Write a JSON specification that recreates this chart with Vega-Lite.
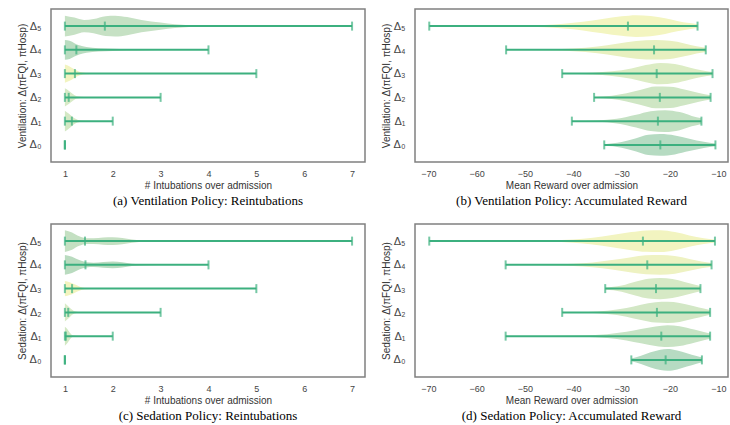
{
  "$schema": "https://vega.github.io/schema/vega-lite/v6.json",
  "background": "white",
  "padding": {"left": 16, "top": 8, "right": 0, "bottom": 0},
  "config": {
    "font": "Liberation Sans",
    "view": {"stroke": "#808080", "strokeWidth": 1.5},
    "area": {"opacity": 1},
    "axis": {"grid": false, "ticks": false, "domain": false, "labelColor": "#444444", "titleColor": "#333333", "titleFontWeight": "normal", "labelFont": "Liberation Sans", "titleFont": "Liberation Sans"},
    "axisX": {"labelFontSize": 9, "titleFontSize": 10, "labelPadding": 7, "titlePadding": 2},
    "axisY": {"labelFontSize": 11, "titleFontSize": 10, "labelPadding": 10, "titlePadding": 2, "labelOverlap": false},
    "title": {"font": "Liberation Serif", "fontSize": 13, "fontWeight": "normal", "color": "#000000", "offset": 5}
  },
  "datasets": {
    "s": [
      {"p": "a", "k": 0, "min": 1, "mean": 1, "max": 1},
      {"p": "a", "k": 1, "min": 1, "mean": 1.146, "max": 2},
      {"p": "a", "k": 2, "min": 1, "mean": 1.08, "max": 3},
      {"p": "a", "k": 3, "min": 1, "mean": 1.21, "max": 5},
      {"p": "a", "k": 4, "min": 1, "mean": 1.24, "max": 4},
      {"p": "a", "k": 5, "min": 1, "mean": 1.835, "max": 7},
      {"p": "b", "k": 0, "min": -33.6, "mean": -22.0, "max": -10.6},
      {"p": "b", "k": 1, "min": -40.3, "mean": -22.5, "max": -13.5},
      {"p": "b", "k": 2, "min": -35.7, "mean": -22.1, "max": -11.6},
      {"p": "b", "k": 3, "min": -42.3, "mean": -22.75, "max": -11.2},
      {"p": "b", "k": 4, "min": -53.9, "mean": -23.3, "max": -12.6},
      {"p": "b", "k": 5, "min": -69.8, "mean": -28.7, "max": -14.3},
      {"p": "c", "k": 0, "min": 1, "mean": 1, "max": 1},
      {"p": "c", "k": 1, "min": 1, "mean": 1.02, "max": 2},
      {"p": "c", "k": 2, "min": 1, "mean": 1.07, "max": 3},
      {"p": "c", "k": 3, "min": 1, "mean": 1.15, "max": 5},
      {"p": "c", "k": 4, "min": 1, "mean": 1.43, "max": 4},
      {"p": "c", "k": 5, "min": 1, "mean": 1.42, "max": 7},
      {"p": "d", "k": 0, "min": -28.0, "mean": -20.9, "max": -13.4},
      {"p": "d", "k": 1, "min": -54.0, "mean": -21.8, "max": -11.7},
      {"p": "d", "k": 2, "min": -42.3, "mean": -22.7, "max": -11.7},
      {"p": "d", "k": 3, "min": -33.4, "mean": -22.9, "max": -13.7},
      {"p": "d", "k": 4, "min": -54.0, "mean": -24.7, "max": -11.4},
      {"p": "d", "k": 5, "min": -69.8, "mean": -25.6, "max": -10.7}
    ],
    "v": [
      {"p": "a", "k": 5, "x": 1, "w": 0.44}, {"p": "a", "k": 5, "x": 1.2, "w": 0.36}, {"p": "a", "k": 5, "x": 1.4, "w": 0.26}, {"p": "a", "k": 5, "x": 1.6, "w": 0.3}, {"p": "a", "k": 5, "x": 1.85, "w": 0.42}, {"p": "a", "k": 5, "x": 2.05, "w": 0.44}, {"p": "a", "k": 5, "x": 2.3, "w": 0.38}, {"p": "a", "k": 5, "x": 2.6, "w": 0.26}, {"p": "a", "k": 5, "x": 3.0, "w": 0.15}, {"p": "a", "k": 5, "x": 3.3, "w": 0.08}, {"p": "a", "k": 5, "x": 3.6, "w": 0.04}, {"p": "a", "k": 5, "x": 4, "w": 0.02}, {"p": "a", "k": 5, "x": 5, "w": 0.008}, {"p": "a", "k": 5, "x": 7, "w": 0.003},
      {"p": "a", "k": 4, "x": 1, "w": 0.42}, {"p": "a", "k": 4, "x": 1.1, "w": 0.38}, {"p": "a", "k": 4, "x": 1.2, "w": 0.28}, {"p": "a", "k": 4, "x": 1.3, "w": 0.19}, {"p": "a", "k": 4, "x": 1.45, "w": 0.12}, {"p": "a", "k": 4, "x": 1.7, "w": 0.07}, {"p": "a", "k": 4, "x": 2.0, "w": 0.05}, {"p": "a", "k": 4, "x": 2.3, "w": 0.03}, {"p": "a", "k": 4, "x": 2.7, "w": 0.015}, {"p": "a", "k": 4, "x": 3.2, "w": 0.007}, {"p": "a", "k": 4, "x": 4, "w": 0.003},
      {"p": "a", "k": 3, "x": 1, "w": 0.38}, {"p": "a", "k": 3, "x": 1.1, "w": 0.3}, {"p": "a", "k": 3, "x": 1.2, "w": 0.18}, {"p": "a", "k": 3, "x": 1.3, "w": 0.08}, {"p": "a", "k": 3, "x": 1.45, "w": 0.03}, {"p": "a", "k": 3, "x": 1.7, "w": 0.01}, {"p": "a", "k": 3, "x": 2.5, "w": 0.004}, {"p": "a", "k": 3, "x": 5, "w": 0.002},
      {"p": "a", "k": 2, "x": 1, "w": 0.38}, {"p": "a", "k": 2, "x": 1.08, "w": 0.28}, {"p": "a", "k": 2, "x": 1.16, "w": 0.15}, {"p": "a", "k": 2, "x": 1.25, "w": 0.05}, {"p": "a", "k": 2, "x": 1.4, "w": 0.015}, {"p": "a", "k": 2, "x": 2, "w": 0.003}, {"p": "a", "k": 2, "x": 3, "w": 0.002},
      {"p": "a", "k": 1, "x": 1, "w": 0.44}, {"p": "a", "k": 1, "x": 1.08, "w": 0.32}, {"p": "a", "k": 1, "x": 1.16, "w": 0.18}, {"p": "a", "k": 1, "x": 1.26, "w": 0.06}, {"p": "a", "k": 1, "x": 1.4, "w": 0.015}, {"p": "a", "k": 1, "x": 2, "w": 0.003},
      {"p": "c", "k": 5, "x": 1, "w": 0.46}, {"p": "c", "k": 5, "x": 1.15, "w": 0.36}, {"p": "c", "k": 5, "x": 1.3, "w": 0.2}, {"p": "c", "k": 5, "x": 1.45, "w": 0.12}, {"p": "c", "k": 5, "x": 1.6, "w": 0.12}, {"p": "c", "k": 5, "x": 1.8, "w": 0.15}, {"p": "c", "k": 5, "x": 2.0, "w": 0.16}, {"p": "c", "k": 5, "x": 2.2, "w": 0.13}, {"p": "c", "k": 5, "x": 2.4, "w": 0.07}, {"p": "c", "k": 5, "x": 2.6, "w": 0.03}, {"p": "c", "k": 5, "x": 3, "w": 0.01}, {"p": "c", "k": 5, "x": 4, "w": 0.004}, {"p": "c", "k": 5, "x": 7, "w": 0.002},
      {"p": "c", "k": 4, "x": 1, "w": 0.42}, {"p": "c", "k": 4, "x": 1.15, "w": 0.34}, {"p": "c", "k": 4, "x": 1.3, "w": 0.2}, {"p": "c", "k": 4, "x": 1.45, "w": 0.11}, {"p": "c", "k": 4, "x": 1.6, "w": 0.09}, {"p": "c", "k": 4, "x": 1.8, "w": 0.12}, {"p": "c", "k": 4, "x": 2.0, "w": 0.14}, {"p": "c", "k": 4, "x": 2.2, "w": 0.11}, {"p": "c", "k": 4, "x": 2.4, "w": 0.05}, {"p": "c", "k": 4, "x": 2.7, "w": 0.015}, {"p": "c", "k": 4, "x": 3.2, "w": 0.004}, {"p": "c", "k": 4, "x": 4, "w": 0.002},
      {"p": "c", "k": 3, "x": 1, "w": 0.32}, {"p": "c", "k": 3, "x": 1.1, "w": 0.27}, {"p": "c", "k": 3, "x": 1.2, "w": 0.18}, {"p": "c", "k": 3, "x": 1.3, "w": 0.09}, {"p": "c", "k": 3, "x": 1.42, "w": 0.03}, {"p": "c", "k": 3, "x": 1.7, "w": 0.008}, {"p": "c", "k": 3, "x": 5, "w": 0.002},
      {"p": "c", "k": 2, "x": 1, "w": 0.38}, {"p": "c", "k": 2, "x": 1.06, "w": 0.28}, {"p": "c", "k": 2, "x": 1.12, "w": 0.16}, {"p": "c", "k": 2, "x": 1.2, "w": 0.05}, {"p": "c", "k": 2, "x": 1.35, "w": 0.01}, {"p": "c", "k": 2, "x": 3, "w": 0.002},
      {"p": "c", "k": 1, "x": 1, "w": 0.4}, {"p": "c", "k": 1, "x": 1.05, "w": 0.3}, {"p": "c", "k": 1, "x": 1.1, "w": 0.15}, {"p": "c", "k": 1, "x": 1.16, "w": 0.04}, {"p": "c", "k": 1, "x": 1.3, "w": 0.005}, {"p": "c", "k": 1, "x": 2, "w": 0.002},
      {"p": "b", "k": 5, "x": -69.8, "w": 0.003}, {"p": "b", "k": 5, "x": -60, "w": 0.008}, {"p": "b", "k": 5, "x": -52, "w": 0.02}, {"p": "b", "k": 5, "x": -46, "w": 0.05}, {"p": "b", "k": 5, "x": -42, "w": 0.1}, {"p": "b", "k": 5, "x": -38, "w": 0.18}, {"p": "b", "k": 5, "x": -34, "w": 0.3}, {"p": "b", "k": 5, "x": -30, "w": 0.41}, {"p": "b", "k": 5, "x": -27, "w": 0.46}, {"p": "b", "k": 5, "x": -24, "w": 0.43}, {"p": "b", "k": 5, "x": -21, "w": 0.33}, {"p": "b", "k": 5, "x": -18.5, "w": 0.22}, {"p": "b", "k": 5, "x": -16, "w": 0.13}, {"p": "b", "k": 5, "x": -14.3, "w": 0.08},
      {"p": "b", "k": 4, "x": -53.9, "w": 0.005}, {"p": "b", "k": 4, "x": -45, "w": 0.02}, {"p": "b", "k": 4, "x": -40, "w": 0.06}, {"p": "b", "k": 4, "x": -35, "w": 0.14}, {"p": "b", "k": 4, "x": -31, "w": 0.26}, {"p": "b", "k": 4, "x": -27, "w": 0.37}, {"p": "b", "k": 4, "x": -23, "w": 0.41}, {"p": "b", "k": 4, "x": -20, "w": 0.38}, {"p": "b", "k": 4, "x": -17, "w": 0.27}, {"p": "b", "k": 4, "x": -14.5, "w": 0.15}, {"p": "b", "k": 4, "x": -12.6, "w": 0.09},
      {"p": "b", "k": 3, "x": -42.3, "w": 0.01}, {"p": "b", "k": 3, "x": -36, "w": 0.04}, {"p": "b", "k": 3, "x": -32, "w": 0.1}, {"p": "b", "k": 3, "x": -28, "w": 0.22}, {"p": "b", "k": 3, "x": -25, "w": 0.36}, {"p": "b", "k": 3, "x": -22, "w": 0.45}, {"p": "b", "k": 3, "x": -19, "w": 0.4}, {"p": "b", "k": 3, "x": -16, "w": 0.26}, {"p": "b", "k": 3, "x": -13.5, "w": 0.14}, {"p": "b", "k": 3, "x": -11.2, "w": 0.07},
      {"p": "b", "k": 2, "x": -35.7, "w": 0.02}, {"p": "b", "k": 2, "x": -32, "w": 0.07}, {"p": "b", "k": 2, "x": -29, "w": 0.17}, {"p": "b", "k": 2, "x": -26, "w": 0.32}, {"p": "b", "k": 2, "x": -23, "w": 0.46}, {"p": "b", "k": 2, "x": -20, "w": 0.45}, {"p": "b", "k": 2, "x": -17, "w": 0.33}, {"p": "b", "k": 2, "x": -14, "w": 0.18}, {"p": "b", "k": 2, "x": -11.6, "w": 0.09},
      {"p": "b", "k": 1, "x": -40.3, "w": 0.005}, {"p": "b", "k": 1, "x": -35, "w": 0.03}, {"p": "b", "k": 1, "x": -31, "w": 0.1}, {"p": "b", "k": 1, "x": -27, "w": 0.27}, {"p": "b", "k": 1, "x": -24, "w": 0.42}, {"p": "b", "k": 1, "x": -21, "w": 0.46}, {"p": "b", "k": 1, "x": -18, "w": 0.38}, {"p": "b", "k": 1, "x": -15.5, "w": 0.22}, {"p": "b", "k": 1, "x": -13.5, "w": 0.12},
      {"p": "b", "k": 0, "x": -33.6, "w": 0.03}, {"p": "b", "k": 0, "x": -30, "w": 0.12}, {"p": "b", "k": 0, "x": -27, "w": 0.28}, {"p": "b", "k": 0, "x": -24.5, "w": 0.43}, {"p": "b", "k": 0, "x": -22, "w": 0.46}, {"p": "b", "k": 0, "x": -19, "w": 0.4}, {"p": "b", "k": 0, "x": -16, "w": 0.26}, {"p": "b", "k": 0, "x": -13, "w": 0.13}, {"p": "b", "k": 0, "x": -10.6, "w": 0.06},
      {"p": "d", "k": 5, "x": -69.8, "w": 0.003}, {"p": "d", "k": 5, "x": -55, "w": 0.01}, {"p": "d", "k": 5, "x": -45, "w": 0.03}, {"p": "d", "k": 5, "x": -40, "w": 0.07}, {"p": "d", "k": 5, "x": -36, "w": 0.14}, {"p": "d", "k": 5, "x": -32, "w": 0.26}, {"p": "d", "k": 5, "x": -28, "w": 0.38}, {"p": "d", "k": 5, "x": -25, "w": 0.45}, {"p": "d", "k": 5, "x": -22, "w": 0.46}, {"p": "d", "k": 5, "x": -19, "w": 0.38}, {"p": "d", "k": 5, "x": -16, "w": 0.24}, {"p": "d", "k": 5, "x": -13, "w": 0.12}, {"p": "d", "k": 5, "x": -10.7, "w": 0.06},
      {"p": "d", "k": 4, "x": -54, "w": 0.004}, {"p": "d", "k": 4, "x": -45, "w": 0.02}, {"p": "d", "k": 4, "x": -40, "w": 0.05}, {"p": "d", "k": 4, "x": -36, "w": 0.1}, {"p": "d", "k": 4, "x": -32, "w": 0.2}, {"p": "d", "k": 4, "x": -28, "w": 0.32}, {"p": "d", "k": 4, "x": -25, "w": 0.4}, {"p": "d", "k": 4, "x": -22, "w": 0.42}, {"p": "d", "k": 4, "x": -19, "w": 0.37}, {"p": "d", "k": 4, "x": -16, "w": 0.25}, {"p": "d", "k": 4, "x": -13.5, "w": 0.14}, {"p": "d", "k": 4, "x": -11.4, "w": 0.08},
      {"p": "d", "k": 3, "x": -33.4, "w": 0.04}, {"p": "d", "k": 3, "x": -30, "w": 0.13}, {"p": "d", "k": 3, "x": -27, "w": 0.3}, {"p": "d", "k": 3, "x": -24.5, "w": 0.42}, {"p": "d", "k": 3, "x": -22, "w": 0.45}, {"p": "d", "k": 3, "x": -19.5, "w": 0.4}, {"p": "d", "k": 3, "x": -17, "w": 0.28}, {"p": "d", "k": 3, "x": -15, "w": 0.17}, {"p": "d", "k": 3, "x": -13.7, "w": 0.11},
      {"p": "d", "k": 2, "x": -42.3, "w": 0.005}, {"p": "d", "k": 2, "x": -37, "w": 0.02}, {"p": "d", "k": 2, "x": -33, "w": 0.07}, {"p": "d", "k": 2, "x": -29, "w": 0.18}, {"p": "d", "k": 2, "x": -26, "w": 0.32}, {"p": "d", "k": 2, "x": -23, "w": 0.43}, {"p": "d", "k": 2, "x": -20.5, "w": 0.45}, {"p": "d", "k": 2, "x": -18, "w": 0.4}, {"p": "d", "k": 2, "x": -15, "w": 0.26}, {"p": "d", "k": 2, "x": -13, "w": 0.16}, {"p": "d", "k": 2, "x": -11.7, "w": 0.1},
      {"p": "d", "k": 1, "x": -54, "w": 0.003}, {"p": "d", "k": 1, "x": -45, "w": 0.01}, {"p": "d", "k": 1, "x": -38, "w": 0.03}, {"p": "d", "k": 1, "x": -33, "w": 0.08}, {"p": "d", "k": 1, "x": -29, "w": 0.18}, {"p": "d", "k": 1, "x": -26, "w": 0.3}, {"p": "d", "k": 1, "x": -23, "w": 0.41}, {"p": "d", "k": 1, "x": -20.5, "w": 0.46}, {"p": "d", "k": 1, "x": -18, "w": 0.42}, {"p": "d", "k": 1, "x": -15, "w": 0.28}, {"p": "d", "k": 1, "x": -13, "w": 0.17}, {"p": "d", "k": 1, "x": -11.7, "w": 0.11},
      {"p": "d", "k": 0, "x": -28, "w": 0.06}, {"p": "d", "k": 0, "x": -26, "w": 0.17}, {"p": "d", "k": 0, "x": -24, "w": 0.32}, {"p": "d", "k": 0, "x": -22, "w": 0.43}, {"p": "d", "k": 0, "x": -20.5, "w": 0.46}, {"p": "d", "k": 0, "x": -18.5, "w": 0.4}, {"p": "d", "k": 0, "x": -16.5, "w": 0.28}, {"p": "d", "k": 0, "x": -14.5, "w": 0.16}, {"p": "d", "k": 0, "x": -13.4, "w": 0.1}
    ]
  },
  "columns": 2,
  "spacing": {"column": 14, "row": 14},
  "resolve": {"scale": {"color": "independent", "x": "independent", "y": "independent"}},
  "concat": [
    {
      "width": 314, "height": 153,
      "title": {"text": "(a) Ventilation Policy: Reintubations", "orient": "bottom"},
      "layer": [
        {
          "data": {"name": "v"},
          "transform": [{"filter": "datum.p == 'a'"}, {"calculate": "datum.k - datum.w", "as": "lo"}, {"calculate": "datum.k + datum.w", "as": "hi"}],
          "mark": {"type": "area", "orient": "vertical", "interpolate": "monotone", "opacity": 1},
          "encoding": {
            "x": {"field": "x", "type": "quantitative", "title": "# Intubations over admission", "scale": {"domain": [0.71, 7.27], "nice": false, "zero": false}, "axis": {"values": [1, 2, 3, 4, 5, 6, 7]}},
            "y": {"field": "lo", "type": "quantitative", "title": "Ventilation: Δ(πFQI, πHosp)", "scale": {"domain": [-0.72, 5.72], "nice": false, "zero": false}, "axis": {"values": [0, 1, 2, 3, 4, 5], "tickCount": 6, "labelExpr": "'Δ' + ['₀','₁','₂','₃','₄','₅'][datum.value]"}},
            "y2": {"field": "hi"},
            "color": {"field": "k", "type": "nominal", "legend": null, "scale": {"domain": [0, 1, 2, 3, 4, 5], "range": ["#b6dbc2", "#d3e8c4", "#d7eac6", "#f2f4c0", "#b9dcc0", "#c6e1c4"]}}
          }
        },
        {
          "data": {"name": "s"},
          "transform": [{"filter": "datum.p == 'a'"}],
          "mark": {"type": "rule", "color": "#3cb07f", "strokeWidth": 2},
          "encoding": {
            "x": {"field": "min", "type": "quantitative", "title": "# Intubations over admission", "axis": {"values": [1, 2, 3, 4, 5, 6, 7]}},
            "x2": {"field": "max"},
            "y": {"field": "k", "type": "quantitative", "title": "Ventilation: Δ(πFQI, πHosp)", "axis": {"values": [0, 1, 2, 3, 4, 5], "tickCount": 6, "labelExpr": "'Δ' + ['₀','₁','₂','₃','₄','₅'][datum.value]"}}
          }
        },
        {
          "data": {"name": "s"},
          "transform": [{"filter": "datum.p == 'a'"}, {"fold": ["min", "mean", "max"], "as": ["stat", "val"]}],
          "mark": {"type": "tick", "orient": "vertical", "color": "#3cb07f", "thickness": 2, "size": 9},
          "encoding": {
            "x": {"field": "val", "type": "quantitative", "title": "# Intubations over admission", "axis": {"values": [1, 2, 3, 4, 5, 6, 7]}},
            "y": {"field": "k", "type": "quantitative", "title": "Ventilation: Δ(πFQI, πHosp)", "axis": {"values": [0, 1, 2, 3, 4, 5], "tickCount": 6, "labelExpr": "'Δ' + ['₀','₁','₂','₃','₄','₅'][datum.value]"}}
          }
        }
      ]
    },
    {
      "width": 313, "height": 153,
      "title": {"text": "(b) Ventilation Policy: Accumulated Reward", "orient": "bottom"},
      "layer": [
        {
          "data": {"name": "v"},
          "transform": [{"filter": "datum.p == 'b'"}, {"calculate": "datum.k - datum.w", "as": "lo"}, {"calculate": "datum.k + datum.w", "as": "hi"}],
          "mark": {"type": "area", "orient": "vertical", "interpolate": "monotone", "opacity": 1},
          "encoding": {
            "x": {"field": "x", "type": "quantitative", "title": "Mean Reward over admission", "scale": {"domain": [-72.75, -8], "nice": false, "zero": false}, "axis": {"values": [-70, -60, -50, -40, -30, -20, -10]}},
            "y": {"field": "lo", "type": "quantitative", "title": "Ventilation: Δ(πFQI, πHosp)", "scale": {"domain": [-0.72, 5.72], "nice": false, "zero": false}, "axis": {"values": [0, 1, 2, 3, 4, 5], "tickCount": 6, "labelExpr": "'Δ' + ['₀','₁','₂','₃','₄','₅'][datum.value]"}},
            "y2": {"field": "hi"},
            "color": {"field": "k", "type": "nominal", "legend": null, "scale": {"domain": [0, 1, 2, 3, 4, 5], "range": ["#b6dbc2", "#c4e1c3", "#cfe6c4", "#dcecc4", "#e8f0c0", "#f3f5c0"]}}
          }
        },
        {
          "data": {"name": "s"},
          "transform": [{"filter": "datum.p == 'b'"}],
          "mark": {"type": "rule", "color": "#3cb07f", "strokeWidth": 2},
          "encoding": {
            "x": {"field": "min", "type": "quantitative", "title": "Mean Reward over admission", "axis": {"values": [-70, -60, -50, -40, -30, -20, -10]}},
            "x2": {"field": "max"},
            "y": {"field": "k", "type": "quantitative", "title": "Ventilation: Δ(πFQI, πHosp)", "axis": {"values": [0, 1, 2, 3, 4, 5], "tickCount": 6, "labelExpr": "'Δ' + ['₀','₁','₂','₃','₄','₅'][datum.value]"}}
          }
        },
        {
          "data": {"name": "s"},
          "transform": [{"filter": "datum.p == 'b'"}, {"fold": ["min", "mean", "max"], "as": ["stat", "val"]}],
          "mark": {"type": "tick", "orient": "vertical", "color": "#3cb07f", "thickness": 2, "size": 9},
          "encoding": {
            "x": {"field": "val", "type": "quantitative", "title": "Mean Reward over admission", "axis": {"values": [-70, -60, -50, -40, -30, -20, -10]}},
            "y": {"field": "k", "type": "quantitative", "title": "Ventilation: Δ(πFQI, πHosp)", "axis": {"values": [0, 1, 2, 3, 4, 5], "tickCount": 6, "labelExpr": "'Δ' + ['₀','₁','₂','₃','₄','₅'][datum.value]"}}
          }
        }
      ]
    },
    {
      "width": 314, "height": 153,
      "title": {"text": "(c) Sedation Policy: Reintubations", "orient": "bottom"},
      "layer": [
        {
          "data": {"name": "v"},
          "transform": [{"filter": "datum.p == 'c'"}, {"calculate": "datum.k - datum.w", "as": "lo"}, {"calculate": "datum.k + datum.w", "as": "hi"}],
          "mark": {"type": "area", "orient": "vertical", "interpolate": "monotone", "opacity": 1},
          "encoding": {
            "x": {"field": "x", "type": "quantitative", "title": "# Intubations over admission", "scale": {"domain": [0.71, 7.27], "nice": false, "zero": false}, "axis": {"values": [1, 2, 3, 4, 5, 6, 7]}},
            "y": {"field": "lo", "type": "quantitative", "title": "Sedation: Δ(πFQI, πHosp)", "scale": {"domain": [-0.72, 5.72], "nice": false, "zero": false}, "axis": {"values": [0, 1, 2, 3, 4, 5], "tickCount": 6, "labelExpr": "'Δ' + ['₀','₁','₂','₃','₄','₅'][datum.value]"}},
            "y2": {"field": "hi"},
            "color": {"field": "k", "type": "nominal", "legend": null, "scale": {"domain": [0, 1, 2, 3, 4, 5], "range": ["#b6dbc2", "#d3e8c4", "#d9ebc7", "#f3f4bf", "#b9dbbf", "#c4e0c2"]}}
          }
        },
        {
          "data": {"name": "s"},
          "transform": [{"filter": "datum.p == 'c'"}],
          "mark": {"type": "rule", "color": "#3cb07f", "strokeWidth": 2},
          "encoding": {
            "x": {"field": "min", "type": "quantitative", "title": "# Intubations over admission", "axis": {"values": [1, 2, 3, 4, 5, 6, 7]}},
            "x2": {"field": "max"},
            "y": {"field": "k", "type": "quantitative", "title": "Sedation: Δ(πFQI, πHosp)", "axis": {"values": [0, 1, 2, 3, 4, 5], "tickCount": 6, "labelExpr": "'Δ' + ['₀','₁','₂','₃','₄','₅'][datum.value]"}}
          }
        },
        {
          "data": {"name": "s"},
          "transform": [{"filter": "datum.p == 'c'"}, {"fold": ["min", "mean", "max"], "as": ["stat", "val"]}],
          "mark": {"type": "tick", "orient": "vertical", "color": "#3cb07f", "thickness": 2, "size": 9},
          "encoding": {
            "x": {"field": "val", "type": "quantitative", "title": "# Intubations over admission", "axis": {"values": [1, 2, 3, 4, 5, 6, 7]}},
            "y": {"field": "k", "type": "quantitative", "title": "Sedation: Δ(πFQI, πHosp)", "axis": {"values": [0, 1, 2, 3, 4, 5], "tickCount": 6, "labelExpr": "'Δ' + ['₀','₁','₂','₃','₄','₅'][datum.value]"}}
          }
        }
      ]
    },
    {
      "width": 313, "height": 153,
      "title": {"text": "(d) Sedation Policy: Accumulated Reward", "orient": "bottom"},
      "layer": [
        {
          "data": {"name": "v"},
          "transform": [{"filter": "datum.p == 'd'"}, {"calculate": "datum.k - datum.w", "as": "lo"}, {"calculate": "datum.k + datum.w", "as": "hi"}],
          "mark": {"type": "area", "orient": "vertical", "interpolate": "monotone", "opacity": 1},
          "encoding": {
            "x": {"field": "x", "type": "quantitative", "title": "Mean Reward over admission", "scale": {"domain": [-72.75, -8], "nice": false, "zero": false}, "axis": {"values": [-70, -60, -50, -40, -30, -20, -10]}},
            "y": {"field": "lo", "type": "quantitative", "title": "Sedation: Δ(πFQI, πHosp)", "scale": {"domain": [-0.72, 5.72], "nice": false, "zero": false}, "axis": {"values": [0, 1, 2, 3, 4, 5], "tickCount": 6, "labelExpr": "'Δ' + ['₀','₁','₂','₃','₄','₅'][datum.value]"}},
            "y2": {"field": "hi"},
            "color": {"field": "k", "type": "nominal", "legend": null, "scale": {"domain": [0, 1, 2, 3, 4, 5], "range": ["#b6dbc2", "#c8e3c4", "#d2e7c5", "#d6e9c5", "#eef2c2", "#f2f4c0"]}}
          }
        },
        {
          "data": {"name": "s"},
          "transform": [{"filter": "datum.p == 'd'"}],
          "mark": {"type": "rule", "color": "#3cb07f", "strokeWidth": 2},
          "encoding": {
            "x": {"field": "min", "type": "quantitative", "title": "Mean Reward over admission", "axis": {"values": [-70, -60, -50, -40, -30, -20, -10]}},
            "x2": {"field": "max"},
            "y": {"field": "k", "type": "quantitative", "title": "Sedation: Δ(πFQI, πHosp)", "axis": {"values": [0, 1, 2, 3, 4, 5], "tickCount": 6, "labelExpr": "'Δ' + ['₀','₁','₂','₃','₄','₅'][datum.value]"}}
          }
        },
        {
          "data": {"name": "s"},
          "transform": [{"filter": "datum.p == 'd'"}, {"fold": ["min", "mean", "max"], "as": ["stat", "val"]}],
          "mark": {"type": "tick", "orient": "vertical", "color": "#3cb07f", "thickness": 2, "size": 9},
          "encoding": {
            "x": {"field": "val", "type": "quantitative", "title": "Mean Reward over admission", "axis": {"values": [-70, -60, -50, -40, -30, -20, -10]}},
            "y": {"field": "k", "type": "quantitative", "title": "Sedation: Δ(πFQI, πHosp)", "axis": {"values": [0, 1, 2, 3, 4, 5], "tickCount": 6, "labelExpr": "'Δ' + ['₀','₁','₂','₃','₄','₅'][datum.value]"}}
          }
        }
      ]
    }
  ]
}
